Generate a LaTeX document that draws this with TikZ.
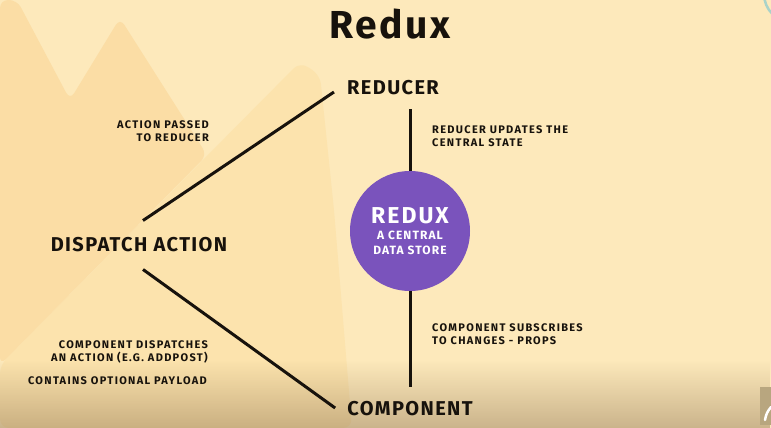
\documentclass[tikz,border=0pt]{standalone}
\usepackage{fontspec}
\setmainfont{Fira Sans}
\newfontfamily\widefont[LetterSpace=7]{Fira Sans}
\newfontfamily\storefont[LetterSpace=9]{Fira Sans}
\newfontfamily\notefont[LetterSpace=12]{Fira Sans}
\usetikzlibrary{fadings}

\definecolor{paper}{HTML}{FDE9BB}
\definecolor{hillmid}{HTML}{FCE3AD}
\definecolor{hill}{HTML}{FBDDA5}
\definecolor{ink}{HTML}{17120C}
\definecolor{storepurple}{HTML}{7A53BC}
\definecolor{arcteal}{HTML}{A9D3C9}
\definecolor{logobox}{HTML}{B8A67F}

\begin{document}
\begin{tikzpicture}[
    x=1pt, y=-1pt,
    title/.style={font=\widefont\fontsize{39}{40}\selectfont\bfseries, text=ink, inner sep=0pt},
    big/.style={font=\widefont\fontsize{20}{22}\selectfont\bfseries, text=ink, inner sep=0pt},
    note/.style={font=\notefont\fontsize{11}{12.5}\selectfont\bfseries, text=ink, inner sep=0pt},
    store/.style={circle, fill=storepurple, minimum size=120pt, inner sep=0pt, text=white, align=center, font=\storefont\bfseries},
    link/.style={line width=3pt, draw=ink}
]

% Background
\fill[paper] (0,0) rectangle (771,428);
\useasboundingbox (0,0) rectangle (771,428);
\begin{scope}
    \clip (0,0) rectangle (771,428);
    \fill[hillmid, rounded corners=9pt] (0,365) -- (300,62) -- (320,75) -- (334,210) -- (352,428) -- (0,428) -- cycle;
    \fill[hill, rounded corners=8pt] (0,0) -- (17,0) -- (70,100) -- (120,18) -- (207,155) -- (0,365) -- cycle;
    \fill[black!55!brown, path fading=north, opacity=0.3] (0,360) rectangle (771,428);
    \draw[arcteal, line width=2.5pt] (792,-6) circle (28);
    \fill[logobox] (760,387) rectangle (771,425);
    \draw[white, line width=2.5pt, line cap=round] (765,420) to[bend left=15] (771,407);
\end{scope}

% Title
\node[title] (title) at (390,24) {Redux};

% Main labels
\node[big] (reducer) at (393,88) {REDUCER};
\node[big] (dispatch) at (139,245) {DISPATCH ACTION};
\node[big] (component) at (410,409) {COMPONENT};

% Central store
\node[store] (store) at (410,231) {\fontsize{23}{24}\selectfont REDUX\\[4pt]\fontsize{12}{13}\selectfont A CENTRAL\\[3pt]\fontsize{12}{13}\selectfont DATA STORE};

% Notes
\node[note, anchor=east, align=right] (passed) at (209,131) {ACTION PASSED\\TO REDUCER};
\node[note, anchor=west, align=left] (updates) at (432,136) {REDUCER UPDATES THE\\CENTRAL STATE};
\node[note, anchor=west, align=left] (subscribes) at (432,334) {COMPONENT SUBSCRIBES\\TO CHANGES - PROPS};
\node[note, anchor=east, align=right] (dispatches) at (208,352) {COMPONENT DISPATCHES\\AN ACTION (E.G. ADDPOST)};
\node[note, anchor=east] (payload) at (207,381) {CONTAINS OPTIONAL PAYLOAD};

% Connections
\draw[link] ([shift={(4,-17)}]dispatch.north) -- ([shift={(-13,4)}]reducer.west);
\draw[link] ([shift={(4,17)}]dispatch.south) -- ([shift={(-12,-1)}]component.west);
\draw[link, shorten >=14pt] (store.north) -- (store.north |- reducer.south);
\draw[link, shorten >=15pt] (store.south) -- (store.south |- component.north);

\end{tikzpicture}
\end{document}
